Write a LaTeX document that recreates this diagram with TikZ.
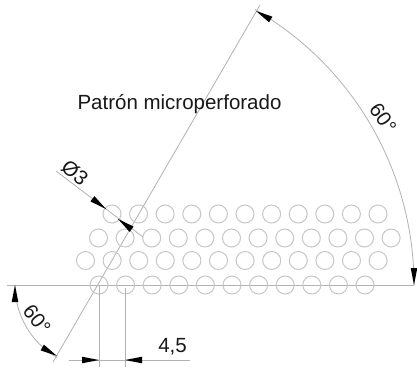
\documentclass[tikz,border=0pt]{standalone}
\usepackage{fontspec}
\setmainfont{Liberation Sans}
\tikzset{
  cad/.style={draw=black!30,line width=0.8pt},
  hole/.style={circle,draw=black!22,line width=1pt,minimum size=18pt,inner sep=0pt},
  lab/.style={inner sep=0pt,text=black!90,font=\fontsize{20.5}{20.5}\selectfont}
}
\newcommand{\wedgeat}[3]{% tip x, tip y, canvas angle of the body
  \fill[black,rotate around={#3:(#1,#2)}] (#1,#2) -- (#1+17,#2-3.3) -- (#1+17,#2+3.3) -- cycle;}
\begin{document}
\begin{tikzpicture}[x=1pt,y=-1pt]
\useasboundingbox (0,0) rectangle (417,367);
\fill[white] (0,0) rectangle (417,367);
% construction lines
\coordinate (hl) at (7,285);
\coordinate (hr) at (414,285);
\coordinate (ll) at (53,362);
\coordinate (lu) at (260,5);
\draw[cad] (hl) -- (hr);
\draw[cad] (ll) -- (lu);
% holes
\foreach \i in {0,...,10} \node[hole] (a\i) at (99+26.6*\i,285) {};
\foreach \i in {0,...,11} \node[hole] (b\i) at (85.5+26.6*\i,260.5) {};
\foreach \i in {0,...,11} \node[hole] (c\i) at (98.5+26.6*\i,238) {};
\foreach \i in {0,...,10} \node[hole] (d\i) at (112+26.6*\i,214) {};
% big arc
\draw[cad] (414,285) arc[start angle=0,end angle=-60,radius=318];
\wedgeat{414}{285}{90}
\wedgeat{256}{11}{-30}
% small arc
\draw[cad] (15,285) arc[start angle=180,end angle=120,radius=83.5];
\wedgeat{15}{285}{-90}
\wedgeat{57}{356}{150}
\node[lab,rotate=-52] (s60) at (37,319) {60°};
\node[lab,rotate=-55] (b60) at (383,118) {60°};
% dimension 4,5
\coordinate (e1) at (99,285);
\coordinate (e2) at (125.5,288);
\draw[cad,line width=1pt] (e1) -- (99,367);
\draw[cad,line width=1pt] (e2) -- (125.5,367);
\draw[cad] (69,360) -- (190,360);
\wedgeat{99}{360}{180}
\wedgeat{125}{360}{0}
\node[lab] (d45) at (172.5,347) {4,5};
% diameter leader
\draw[cad] (56,171) -- (143,237);
\wedgeat{106}{209}{143}
\wedgeat{118}{219}{-37}
\node[lab,rotate=-40] (dia) at (75,173) {Ø3};
% title
\node[lab] (title) at (179.5,104) {Patrón microperforado};
\end{tikzpicture}
\end{document}
